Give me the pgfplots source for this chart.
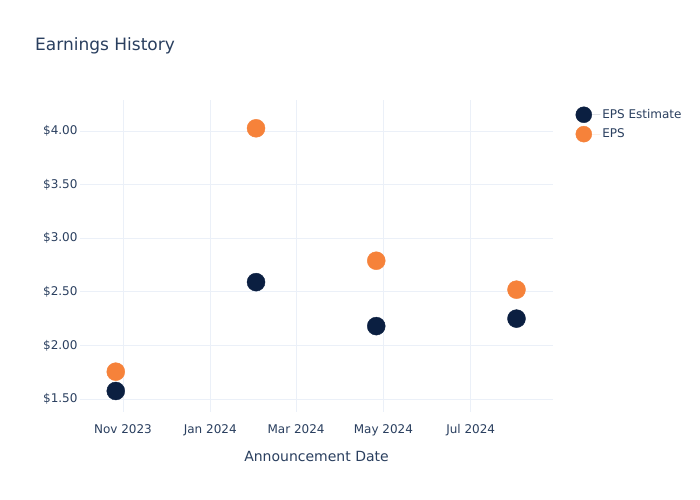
\documentclass[border=0pt]{standalone}
\usepackage{pgfplots}
\pgfplotsset{compat=1.18}
\usepackage{fontspec}
\setmainfont{DejaVu Sans}
\definecolor{navy}{HTML}{0B1F41}
\definecolor{orng}{HTML}{F6823A}
\definecolor{txt}{HTML}{2A3F5F}
\definecolor{grd}{HTML}{EBF0F8}
\begin{document}
\begin{tikzpicture}[x=1bp,y=1bp]
\fill[white] (0,0) rectangle (700,500);
\node[anchor=west,inner sep=0pt,text=txt,font=\fontsize{17bp}{20bp}\selectfont] at (35,454) {Earnings History};
\begin{axis}[
  at={(80bp,88bp)}, anchor=south west,
  scale only axis, width=473bp, height=312bp,
  xmin=-30, xmax=300.5, ymin=1.379, ymax=4.289,
  axis line style={draw=none},
  major tick length=0pt,
  grid=major, grid style={grd, line width=0.8bp},
  xtick={0,61,121,182,243},
  xticklabels={Nov 2023,Jan 2024,Mar 2024,May 2024,Jul 2024},
  ytick={1.5,2,2.5,3,3.5,4},
  yticklabels={\$1.50,\$2.00,\$2.50,\$3.00,\$3.50,\$4.00},
  ticklabel style={text=txt,font=\fontsize{12bp}{14bp}\selectfont},
  xticklabel style={yshift=-9bp},
  yticklabel style={xshift=1bp},
  xlabel={Announcement Date},
  xlabel style={text=txt,font=\fontsize{14bp}{17bp}\selectfont, yshift=-8bp},
  legend style={at={(1.041,0.986)}, anchor=north west, draw=none, fill=none,
    font=\fontsize{12bp}{14bp}\selectfont, text=txt, row sep=3bp},
  legend cell align=left,
  legend image code/.code={\fill[#1] (0bp,0bp) circle (8bp); \path[draw=none] (0bp,0bp) -- (16.5bp,0bp);},
  clip=false,
]
\addplot[only marks, mark=*, mark size=9bp, color=navy, fill=navy] coordinates {
  (-5,1.575) (93,2.59) (177,2.18) (275,2.25)};
\addlegendentry{EPS Estimate}
\addplot[only marks, mark=*, mark size=9bp, color=orng, fill=orng] coordinates {
  (-5,1.755) (93,4.025) (177,2.79) (275,2.52)};
\addlegendentry{EPS}
\end{axis}
\end{tikzpicture}
\end{document}
